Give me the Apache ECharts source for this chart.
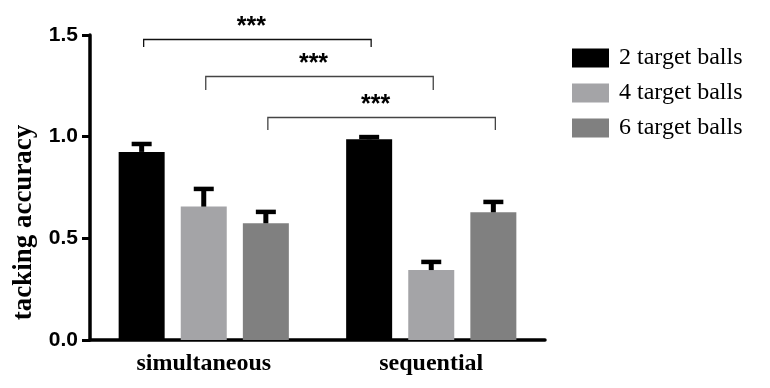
<!DOCTYPE html>
<html>
<head>
<meta charset="utf-8">
<script src="https://cdn.jsdelivr.net/npm/echarts@6/dist/echarts.min.js"></script>
<style>
html,body{margin:0;padding:0;background:#fff;}
#chart{width:770px;height:388px;}
</style>
</head>
<body>
<div id="chart"></div>
<script>
// ---- data ----
var categories = ['simultaneous', 'sequential'];
var seriesNames = ['2 target balls', '4 target balls', '6 target balls'];
var means2 = [0.925, 0.987];
var errs2  = [0.039, 0.011];
var means4 = [0.656, 0.344];
var errs4  = [0.087, 0.040];
var means6 = [0.574, 0.628];
var errs6  = [0.056, 0.051];
var yTicks = [0, 0.5, 1.0, 1.5];
// significance brackets: [fromCategory, fromSeries] -> [toCategory, toSeries]
var bracketFrom = [[0, 0], [0, 1], [0, 2]];
var bracketTo   = [[1, 0], [1, 1], [1, 2]];
var bracketLevel = [1.480, 1.298, 1.097];
var bracketLegEnd = [1.441, 1.230, 1.033];
var bracketLabel = ['***', '***', '***'];

// ---- styling ----
var colors = ['#000000', '#a4a4a7', '#808080'];
var BAR_W = 46;
var GAP_RATIO = 0.35;
var STEP = BAR_W * (1 + GAP_RATIO);
var serif = '"Liberation Serif", "Times New Roman", serif';
var sans = '"Liberation Sans", Arial, sans-serif';

var meansAll = [means2, means4, means6];
var errsAll = [errs2, errs4, errs6];

function offsetFor(si) { return (si - 1) * STEP; }

var series = [];
seriesNames.forEach(function (name, si) {
  series.push({
    name: name,
    type: 'bar',
    data: meansAll[si],
    barWidth: BAR_W,
    barGap: (GAP_RATIO * 100) + '%',
    itemStyle: { color: colors[si] },
    silent: true
  });
});
seriesNames.forEach(function (name, si) {
  series.push({
    name: name + ' err',
    type: 'custom',
    silent: true,
    z: 5,
    encode: { x: 0, y: 1 },
    data: meansAll[si].map(function (m, ci) { return [ci, m, errsAll[si][ci]]; }),
    renderItem: function (params, api) {
      var ci = api.value(0), m = api.value(1), e = api.value(2);
      var base = api.coord([ci, m]);
      var top = api.coord([ci, m + e]);
      var x = base[0] + offsetFor(si);
      return {
        type: 'group',
        children: [
          { type: 'line', shape: { x1: x, y1: base[1], x2: x, y2: top[1] },
            style: { stroke: '#000', lineWidth: 5 } },
          { type: 'line', shape: { x1: x - 10, y1: top[1], x2: x + 10, y2: top[1] },
            style: { stroke: '#000', lineWidth: 4.5 } }
        ]
      };
    }
  });
});
series.push({
  name: 'brackets',
  type: 'custom',
  silent: true,
  z: 6,
  encode: { x: 0, y: 4 },
  data: bracketLevel.map(function (lv, i) {
    return [bracketFrom[i][0], bracketFrom[i][1], bracketTo[i][0], bracketTo[i][1], lv, bracketLegEnd[i]];
  }),
  renderItem: function (params, api) {
    var fc = api.value(0), fs = api.value(1), tc = api.value(2), ts = api.value(3);
    var lv = api.value(4), le = api.value(5);
    var p1 = api.coord([fc, lv]);
    var p2 = api.coord([tc, lv]);
    var pe = api.coord([fc, le]);
    var x1 = p1[0] + offsetFor(fs) + 2;
    var x2 = p2[0] + offsetFor(ts) + 2;
    var y = Math.round(p1[1]) + 0.5;
    var yl = pe[1];
    var col = params.dataIndex === 0 ? '#111' : '#444';
    return {
      type: 'group',
      children: [
        { type: 'polyline', shape: { points: [[x1, yl], [x1, y], [x2, y], [x2, yl]] },
          style: { stroke: col, lineWidth: 1.3, fill: null } },
        { type: 'text', x: (x1 + x2) / 2 - 6, y: y - 12,
          style: { text: bracketLabel[params.dataIndex], fill: '#000',
                   font: 'bold 25px ' + sans, align: 'center', verticalAlign: 'middle' } }
      ]
    };
  }
});

var chart = echarts.init(document.getElementById('chart'), null, { renderer: 'canvas' });
chart.setOption({
  animation: false,
  backgroundColor: '#fff',
  grid: { left: 90, right: 225, top: 35, bottom: 48, containLabel: false },
  legend: {
    data: seriesNames,
    orient: 'vertical',
    left: 572,
    top: 46,
    padding: 0,
    itemWidth: 37,
    itemHeight: 19,
    itemGap: 11,
    icon: 'rect',
    selectedMode: false,
    textStyle: { fontFamily: serif, fontSize: 24, color: '#000', padding: [0, 0, 0, 5] }
  },
  xAxis: {
    type: 'category',
    data: categories,
    boundaryGap: true,
    axisLine: { lineStyle: { color: '#000', width: 3.5 } },
    axisTick: { alignWithLabel: true, length: 7, lineStyle: { color: '#000', width: 3 } },
    axisLabel: { color: '#000', fontFamily: serif, fontWeight: 'bold', fontSize: 24, margin: 12 }
  },
  yAxis: {
    type: 'value',
    min: yTicks[0],
    max: yTicks[yTicks.length - 1],
    interval: yTicks[1] - yTicks[0],
    name: 'tacking accuracy',
    nameLocation: 'middle',
    nameGap: 52,
    nameTextStyle: { color: '#000', fontFamily: serif, fontWeight: 'bold', fontSize: 27,
      padding: [0, 70, 0, 0] },
    splitLine: { show: false },
    axisLine: { show: true, lineStyle: { color: '#000', width: 3.5 } },
    axisTick: { show: true, length: 8, lineStyle: { color: '#000', width: 3 } },
    axisLabel: { color: '#000', fontFamily: sans, fontWeight: 'bold', fontSize: 21, margin: 12,
      formatter: function (v) { return v.toFixed(1); } }
  },
  series: series
});
</script>
</body>
</html>
